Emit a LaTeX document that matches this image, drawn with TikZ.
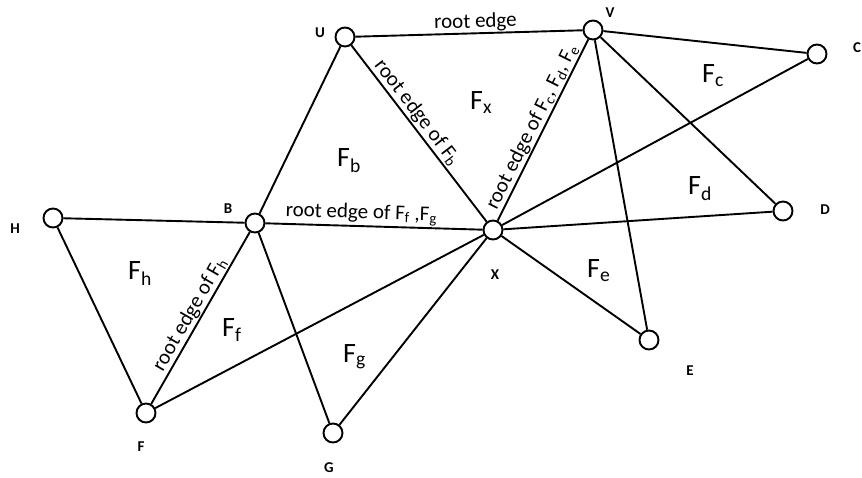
\documentclass[tikz,border=0pt]{standalone}
\usepackage{fontspec}
\setmainfont{Carlito}
\usetikzlibrary{positioning}
\tikzset{
  vtx/.style ={circle, draw, fill=white, line width=1.9pt, minimum size=19pt, inner sep=0pt},
  vlab/.style={font=\fontsize{15}{15}\selectfont\bfseries},
  face/.style={font=\fontsize{28}{28}\selectfont, inner sep=0pt, anchor=base west},
  elab/.style={font=\fontsize{21}{21}\selectfont, sloped, above, inner sep=1pt},
  edge/.style={line width=1.9pt},
}
\newcommand{\fsub}[1]{F\textsubscript{#1}}

\begin{document}
\begin{tikzpicture}[x=1pt, y=-1pt]
\useasboundingbox (0,0) rectangle (862,478);
% vertices
\node[vtx] (U) at (345,37)  {};
\node[vtx] (V) at (593,30)  {};
\node[vtx] (C) at (817,54)  {};
\node[vtx] (D) at (783,211) {};
\node[vtx] (H) at (53,218)  {};
\node[vtx] (B) at (255,223) {};
\node[vtx] (X) at (493,230) {};
\node[vtx] (E) at (649,340) {};
\node[vtx] (F) at (146,413) {};
\node[vtx] (G) at (333,433) {};

% vertex names
\node[vlab] (lU) at (320,33)  {U};
\node[vlab] (lV) at (610,13)  {V};
\node[vlab] (lC) at (857,48)  {C};
\node[vlab] (lD) at (825,210) {D};
\node[vlab] (lH) at (15,229)  {H};
\node[vlab] (lB) at (228,209) {B};
\node[vlab] (lX) at (495,275) {X};
\node[vlab] (lE) at (690,371) {E};
\node[vlab] (lF) at (141,447) {F};
\node[vlab] (lG) at (329,468) {G};

% edges
\draw[edge] (U) -- node[elab, pos=0.53] {root edge} (V);
\draw[edge] (V) -- (C);
\draw[edge] (U) -- (B);
\draw[edge] (U) -- node[elab, pos=0.42] {root edge of \fsub{b}} (X);
\draw[edge] (X) -- node[elab, pos=0.49] {root edge of \fsub{c}, \fsub{d}, \fsub{e}} (V);
\draw[edge] (V) -- (D);
\draw[edge] (V) -- (E);
\draw[edge] (H) -- (B);
\draw[edge] (H) -- (F);
\draw[edge] (F) -- node[elab, pos=0.49] {root edge of \fsub{h}} (B);
\draw[edge] (B) -- node[elab, pos=0.44] {root edge of \fsub{f} ,\fsub{g}} (X);
\draw[edge] (B) -- (G);
\draw[edge] (X) -- (C);
\draw[edge] (X) -- (D);
\draw[edge] (X) -- (E);
\draw[edge] (X) -- (G);
\draw[edge] (X) -- (F);

% faces
\node[face] (fx) at (470,110) {\fsub{x}};
\node[face] (fb) at (337,167) {\fsub{b}};
\node[face] (fc) at (702,83)  {\fsub{c}};
\node[face] (fd) at (688,195) {\fsub{d}};
\node[face] (fe) at (587,278) {\fsub{e}};
\node[face] (fh) at (128,280) {\fsub{h}};
\node[face] (ff) at (222,337) {\fsub{f}};
\node[face] (fg) at (343,362) {\fsub{g}};
\end{tikzpicture}
\end{document}
